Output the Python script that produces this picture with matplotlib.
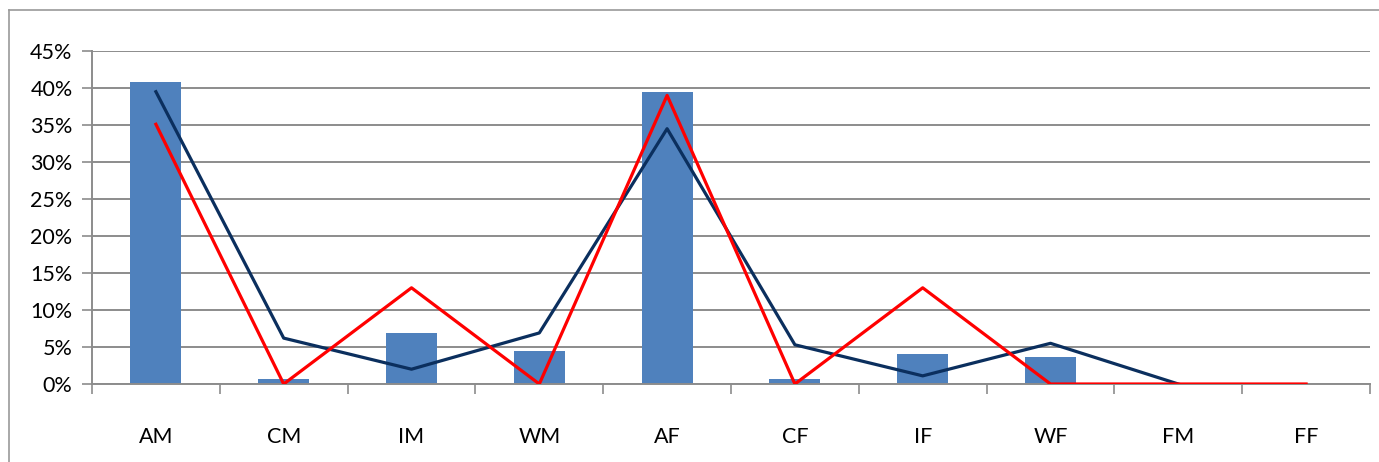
import numpy as np
import matplotlib.pyplot as plt
from matplotlib.lines import Line2D
from matplotlib.ticker import FuncFormatter

# data (percent)
categories = ['AM', 'CM', 'IM', 'WM', 'AF', 'CF', 'IF', 'WF', 'FM', 'FF']
bar_vals = [40.8, 0.7, 6.9, 4.5, 39.5, 0.7, 4.1, 3.6, 0.0, 0.0]
navy_vals = [39.5, 6.2, 2.0, 6.9, 34.5, 5.3, 1.1, 5.5, 0.0, np.nan]
red_vals = [35.1, 0.0, 13.0, 0.0, 39.0, 0.0, 13.0, 0.0, 0.0, 0.0]

plt.rcParams['font.family'] = ['Lato', 'DejaVu Sans']

fig = plt.figure(figsize=(13.79, 4.62), dpi=100, facecolor='white')
ax = fig.add_axes([92 / 1379, 78 / 462, 1278 / 1379, 333 / 462])

x = np.arange(len(categories))
ax.bar(x, bar_vals, width=0.4, color='#4F81BD', zorder=2)
ax.plot(x, navy_vals, color='#0B2F5E', lw=2.3, zorder=3)
ax.plot(x, red_vals, color='#FF0000', lw=2.3, zorder=4)

ax.set_xlim(-0.5, len(categories) - 0.5)
ax.set_ylim(0, 45)
ax.set_yticks(np.arange(0, 46, 5))
ax.yaxis.set_major_formatter(FuncFormatter(lambda v, p: '%d%%' % v))
ax.grid(axis='y', color='#8C8C8C', lw=1.4, zorder=0)
ax.set_axisbelow(True)

# category labels centred, ticks between categories
ax.set_xticks(x)
ax.set_xticklabels(categories)
ax.set_xticks(np.arange(-0.5, len(categories), 1.0), minor=True)
ax.tick_params(axis='x', which='major', length=0, pad=31, labelsize=15.5)
ax.tick_params(axis='x', which='minor', length=7, width=1.2, color='#8C8C8C', direction='out')
ax.tick_params(axis='y', length=7, width=1.2, color='#8C8C8C', pad=7, labelsize=15.5)

for s in ['top', 'right']:
    ax.spines[s].set_visible(False)
for s in ['left', 'bottom']:
    ax.spines[s].set_color('#8C8C8C')
    ax.spines[s].set_linewidth(1.4)

# outer chart frame (only left and top edges show)
fig.add_artist(Line2D([8.5 / 1379, 8.5 / 1379], [0, 1 - 10 / 462], color='#9A9A9A', lw=1.2))
fig.add_artist(Line2D([8.5 / 1379, 1], [1 - 10 / 462, 1 - 10 / 462], color='#9A9A9A', lw=1.2))

fig.savefig('out.png', dpi=100, facecolor='white')
